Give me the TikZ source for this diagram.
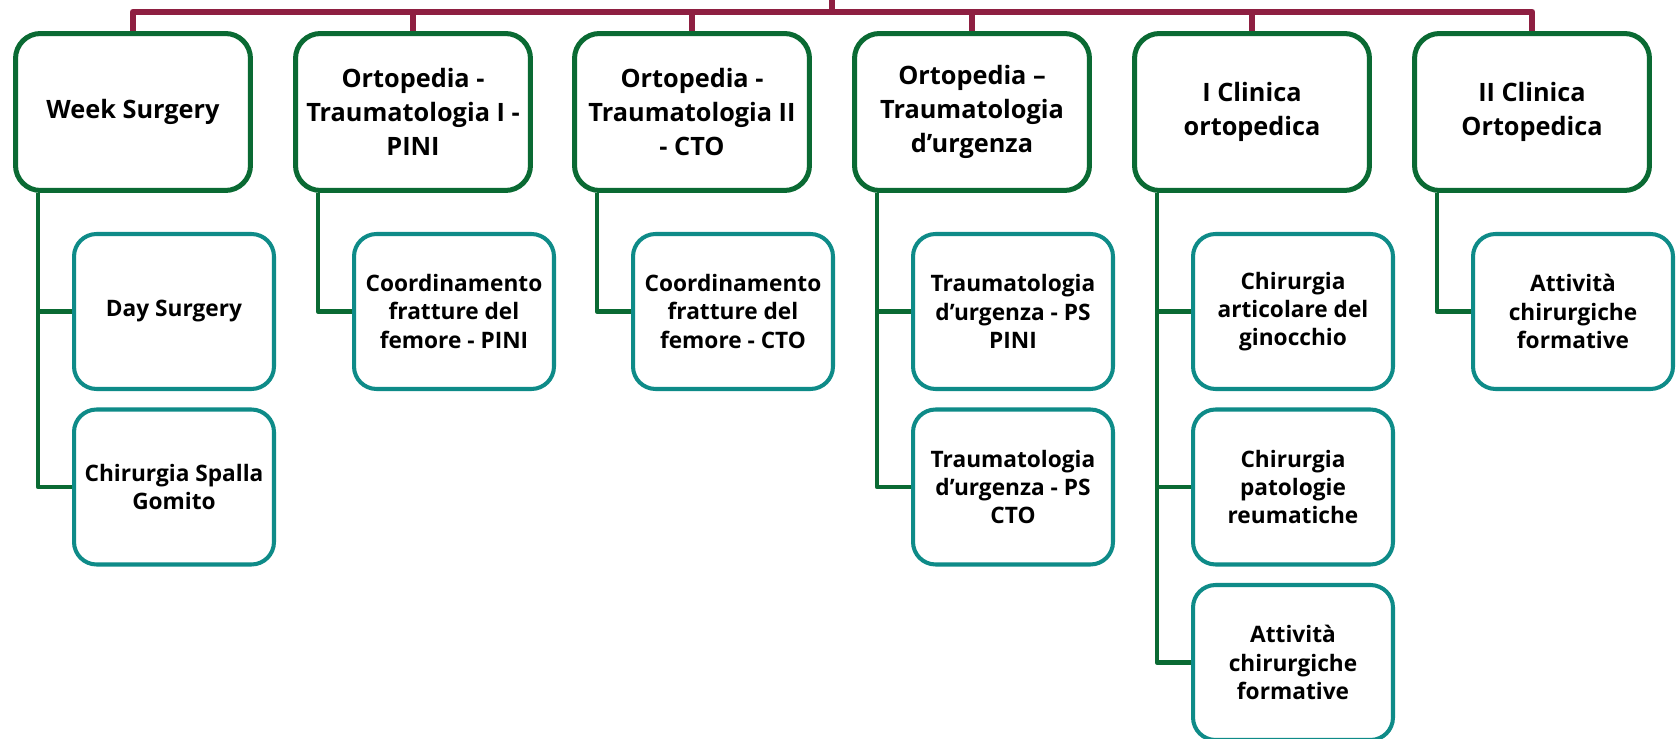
\documentclass[tikz,border=0pt]{standalone}
\usepackage{fontspec}
\setmainfont{Open Sans}[Ligatures=NoCommon]
\definecolor{barred}{HTML}{8E1F41}
\definecolor{unitgreen}{HTML}{0A6A33}
\definecolor{subteal}{HTML}{0E8B88}
\tikzset{
  unit/.style={draw=unitgreen, line width=2.85pt, rounded corners=0.5cm, fill=white, minimum width=4.7cm, minimum height=3.14cm, align=center, inner sep=2pt, font=\fontsize{14.4}{19.3}\selectfont\bfseries},
  subunit/.style={draw=subteal, line width=2.3pt, rounded corners=0.45cm, fill=white, minimum width=4cm, minimum height=3.1cm, align=center, inner sep=2pt, font=\fontsize{12.9}{16.1}\selectfont\bfseries},
  barline/.style={draw=barred, line width=3.8pt, line join=round},
  link/.style={draw=unitgreen, line width=2.7pt, line join=round}
}
\begin{document}
\begin{tikzpicture}[x=0.02cm, y=-0.02cm]
\useasboundingbox (0,0) rectangle (1677,739);
\clip (0,0) rectangle (1677,739);
\node[unit] (ws) at (133,112) {Week Surgery};
\node[unit] (ot1) at (413,112) {Ortopedia -\\Traumatologia I -\\PINI};
\node[unit] (ot2) at (692,112) {Ortopedia -\\Traumatologia II\\- CTO};
\node[unit] (otu) at (972,112) {Ortopedia –\\Traumatologia\\d’urgenza};
\node[unit] (co1) at (1252,112) {I Clinica\\ortopedica};
\node[unit] (co2) at (1532,112) {II Clinica\\Ortopedica};
\coordinate (top) at (832,0);
\coordinate (bar) at (832,12);
\draw[barline] (ws.north) |- (bar) -| (co2.north);
\draw[barline] (bar) -- (top);
\draw[barline] (ot1.north) -- (ot1.north |- bar);
\draw[barline] (ot2.north) -- (ot2.north |- bar);
\draw[barline] (otu.north) -- (otu.north |- bar);
\draw[barline] (co1.north) -- (co1.north |- bar);
\node[subunit] (ds) at (174,311.5) {Day Surgery};
\node[subunit] (csg) at (174,487) {Chirurgia Spalla\\Gomito};
\node[subunit] (cfp) at (454,311.5) {Coordinamento\\fratture del\\femore - PINI};
\node[subunit] (cfc) at (733,311.5) {Coordinamento\\fratture del\\femore - CTO};
\node[subunit] (tup) at (1013,311.5) {Traumatologia\\d’urgenza - PS\\PINI};
\node[subunit] (tuc) at (1013,487) {Traumatologia\\d’urgenza - PS\\CTO};
\node[subunit] (cag) at (1293,311.5) {Chirurgia\\articolare del\\ginocchio};
\node[subunit] (cpr) at (1293,487) {Chirurgia\\patologie\\reumatiche};
\node[subunit] (acf1) at (1293,662.5) {Attività\\chirurgiche\\formative};
\node[subunit] (acf2) at (1573,311.5) {Attività\\chirurgiche\\formative};
\draw[link] ([xshift=0.5cm]ws.south west) |- (ds.west);
\draw[link] ([xshift=0.5cm]ws.south west) |- (csg.west);
\draw[link] ([xshift=0.5cm]ot1.south west) |- (cfp.west);
\draw[link] ([xshift=0.5cm]ot2.south west) |- (cfc.west);
\draw[link] ([xshift=0.5cm]otu.south west) |- (tup.west);
\draw[link] ([xshift=0.5cm]otu.south west) |- (tuc.west);
\draw[link] ([xshift=0.5cm]co1.south west) |- (cag.west);
\draw[link] ([xshift=0.5cm]co1.south west) |- (cpr.west);
\draw[link] ([xshift=0.5cm]co1.south west) |- (acf1.west);
\draw[link] ([xshift=0.5cm]co2.south west) |- (acf2.west);
\end{tikzpicture}
\end{document}
